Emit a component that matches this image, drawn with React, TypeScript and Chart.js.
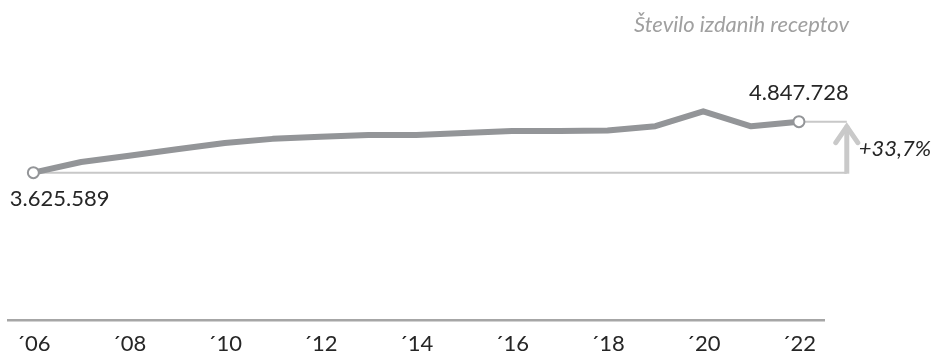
import React, { useEffect, useRef } from 'react';
import { Chart, registerables } from 'chart.js';

Chart.register(...registerables);

// Annual number of issued prescriptions
const years = [2006, 2007, 2008, 2009, 2010, 2011, 2012, 2013, 2014, 2015, 2016, 2017, 2018, 2019, 2020, 2021, 2022];
const prescriptions = [
  3625589, 3882000, 4033000, 4186000, 4337000, 4436000, 4486000, 4527000, 4530000,
  4577000, 4625000, 4627000, 4634000, 4740000, 5095000, 4738000, 4847728,
];

const tickYears = [2006, 2008, 2010, 2012, 2014, 2016, 2018, 2020, 2022];
const tickLabels = ['´06', '´08', '´10', '´12', '´14', '´16', '´18', '´20', '´22'];

const titleText = 'Število izdanih receptov';

const FONT = 'Lato, "Open Sans", sans-serif';
const TEXT_DARK = '#262626';
const LINE_GREY = '#939598';
const GUIDE_GREY = '#c8c8c8';

const formatThousands = (n: number) => String(Math.round(n)).replace(/\B(?=(\d{3})+(?!\d))/g, '.');

const changeAnnotations = {
  id: 'changeAnnotations',
  beforeDatasetsDraw(chart: any) {
    const { ctx, scales } = chart;
    const x = scales.x;
    const y = scales.y;
    const n = prescriptions.length;
    const x0 = x.getPixelForValue(years[0]);
    const x1 = x.getPixelForValue(years[n - 1]);
    const xa = x.getPixelForValue(years[n - 1] + 1);
    const y0 = y.getPixelForValue(prescriptions[0]);
    const y1 = y.getPixelForValue(prescriptions[n - 1]);

    ctx.save();
    // guide lines from the first and last values to the arrow
    ctx.strokeStyle = GUIDE_GREY;
    ctx.lineWidth = 2;
    ctx.beginPath();
    ctx.moveTo(x0, y0);
    ctx.lineTo(xa, y0);
    ctx.moveTo(x1, y1);
    ctx.lineTo(xa, y1);
    ctx.stroke();

    // upward arrow showing the change
    ctx.strokeStyle = '#c9c9c9';
    ctx.lineWidth = 5;
    ctx.lineCap = 'butt';
    ctx.beginPath();
    ctx.moveTo(xa, y0 + 1);
    ctx.lineTo(xa, y1 + 4);
    ctx.stroke();
    ctx.lineCap = 'round';
    ctx.lineJoin = 'miter';
    ctx.beginPath();
    ctx.moveTo(xa - 11, y1 + 21);
    ctx.lineTo(xa, y1 + 5);
    ctx.lineTo(xa + 11, y1 + 21);
    ctx.stroke();
    ctx.restore();
  },
  afterDatasetsDraw(chart: any) {
    const { ctx, scales } = chart;
    const x = scales.x;
    const y = scales.y;
    const n = prescriptions.length;
    const first = prescriptions[0];
    const last = prescriptions[n - 1];
    const x0 = x.getPixelForValue(years[0]);
    const x1 = x.getPixelForValue(years[n - 1]);
    const xa = x.getPixelForValue(years[n - 1] + 1);
    const y0 = y.getPixelForValue(first);
    const y1 = y.getPixelForValue(last);

    ctx.save();
    ctx.fillStyle = TEXT_DARK;
    ctx.font = `22px ${FONT}`;
    ctx.textBaseline = 'middle';

    ctx.textAlign = 'left';
    ctx.fillText(formatThousands(first), x0 - 23.5, y0 + 26);

    ctx.textAlign = 'center';
    ctx.fillText(formatThousands(last), x1, y1 - 29);

    const change = ((last - first) / first) * 100;
    ctx.font = `italic 22px ${FONT}`;
    ctx.textAlign = 'left';
    ctx.fillText(`+${change.toFixed(1).replace('.', ',')}%`, xa + 12, (y0 + y1) / 2 + 1.5);

    ctx.fillStyle = '#a0a0a0';
    ctx.font = `italic 22px ${FONT}`;
    ctx.textAlign = 'right';
    ctx.textBaseline = 'alphabetic';
    ctx.fillText(titleText, 849, 32);
    ctx.restore();
  },
};

export default function App() {
  const canvasRef = useRef<HTMLCanvasElement | null>(null);

  useEffect(() => {
    if (!canvasRef.current) return;
    const n = prescriptions.length;
    const chart = new Chart(canvasRef.current, {
      type: 'line',
      data: {
        datasets: [
          {
            data: years.map((yr, i) => ({ x: yr, y: prescriptions[i] })),
            borderColor: LINE_GREY,
            borderWidth: 6,
            borderJoinStyle: 'round',
            tension: 0,
            fill: false,
            clip: false,
            pointRadius: years.map((_, i) => (i === 0 || i === n - 1 ? 5.5 : 0)),
            pointHoverRadius: 0,
            pointBackgroundColor: '#ffffff',
            pointBorderColor: LINE_GREY,
            pointBorderWidth: 2,
          },
        ],
      },
      options: {
        animation: false,
        responsive: false,
        devicePixelRatio: 1,
        events: [],
        layout: { padding: { left: 8, right: 110.7, top: 61, bottom: -14 } },
        plugins: {
          legend: { display: false },
          tooltip: { enabled: false },
          title: { display: false },
        },
        scales: {
          x: {
            type: 'linear',
            min: 2005.47,
            max: 2022.53,
            grid: { display: false, drawTicks: false },
            border: { display: true, color: '#a6a6a6', width: 2.5 },
            afterBuildTicks: (scale: any) => {
              scale.ticks = tickYears.map((v) => ({ value: v }));
            },
            ticks: {
              autoSkip: false,
              maxRotation: 0,
              padding: 13,
              color: TEXT_DARK,
              font: { family: FONT, size: 22, lineHeight: 1 },
              callback: (value: any) => {
                const idx = tickYears.indexOf(Number(value));
                return idx >= 0 ? tickLabels[idx] : '';
              },
            },
          },
          y: {
            display: false,
            min: 95700,
            max: 6302000,
          },
        },
      },
      plugins: [changeAnnotations],
    });
    return () => chart.destroy();
  }, []);

  return (
    <div style={{ position: 'absolute', left: 0, top: 0, width: 935, height: 354, background: '#ffffff' }}>
      <canvas ref={canvasRef} width={935} height={354} style={{ display: 'block', width: 935, height: 354 }} />
    </div>
  );
}
